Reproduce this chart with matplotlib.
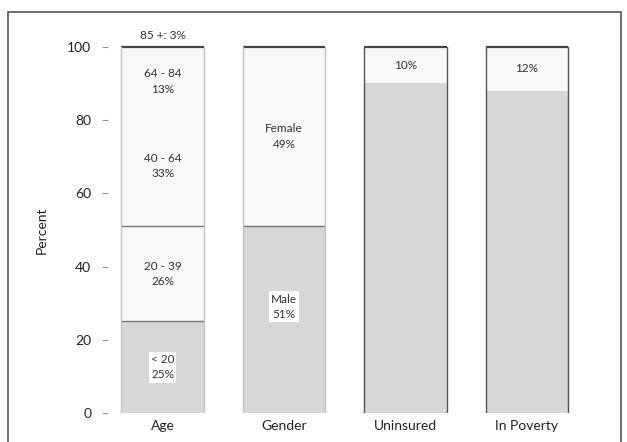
import matplotlib
matplotlib.use("Agg")
import matplotlib.pyplot as plt
from matplotlib.patches import Rectangle

categories = ["Age", "Gender", "Uninsured", "In Poverty"]

age_values = [25, 26, 33, 13, 3]
age_labels = ["< 20\n25%", "20 - 39\n26%", "40 - 64\n33%", "64 - 84\n13%", "85 +: 3%"]
gender_values = [51, 49]
gender_labels = ["Male\n51%", "Female\n49%"]
uninsured_values = [90, 10]
uninsured_labels = ["", "10%"]
poverty_values = [88, 12]
poverty_labels = ["", "12%"]
yticks = [0, 20, 40, 60, 80, 100]

GRAY = "#d7d7d7"
WHITE = "#f8f8f8"

plt.rcParams['font.family'] = ['Lato', 'DejaVu Sans']

fig = plt.figure(figsize=(6.27, 4.42), dpi=100)
ax = fig.add_axes([0.172, 0.0656, 0.775, 0.8284])

series = [
    (age_values, age_labels, [GRAY, WHITE, WHITE, WHITE, WHITE], [1, 2]),
    (gender_values, gender_labels, [GRAY, WHITE], [1]),
    (uninsured_values, uninsured_labels, [GRAY, WHITE], []),
    (poverty_values, poverty_labels, [GRAY, WHITE], []),
]
width = 0.68
for i, (vals, labs, cols, lines_at) in enumerate(series):
    bottom = 0
    bounds = []
    for j, (v, lab, c) in enumerate(zip(vals, labs, cols)):
        ax.bar(i, v, width=width, bottom=bottom, color=c, edgecolor="none")
        if lab:
            if i == 0 and j == len(vals) - 1:
                ax.text(i, 101.5, lab, ha="center", va="bottom", fontsize=8.5,
                        color="#333333", clip_on=False)
            else:
                yc = bottom + v / 2
                if i == 1 and j == 0:
                    yc = 29
                bbox = dict(facecolor="white", edgecolor="none", pad=1.5) if c == GRAY else None
                ax.text(i, yc, lab, ha="center", va="center", fontsize=8.5,
                        color="#333333", linespacing=1.5, bbox=bbox)
        bottom += v
        bounds.append(bottom)
    for k in lines_at:
        ax.plot([i - width / 2, i + width / 2], [bounds[k - 1]] * 2, color="#777777",
                lw=1.0, solid_capstyle="butt")
    # dark outline for total bar top
    ax.plot([i - width / 2, i + width / 2], [100, 100], color="#444444", lw=1.6,
            clip_on=False, solid_capstyle="butt")
    side = "#555555" if i >= 2 else "#c4c4c4"
    ax.plot([i - width / 2, i - width / 2], [0, 100], color=side, lw=1.0)
    ax.plot([i + width / 2, i + width / 2], [0, 100], color=side, lw=1.0)

ax.set_xlim(-0.45, 3.55)
ax.set_ylim(0, 100)
ax.set_xticks(range(len(categories)))
ax.set_xticklabels(categories, fontsize=10, color="#222222")
ax.set_yticks(yticks)
ax.set_yticklabels([str(t) for t in yticks], fontsize=10, color="#222222")
ax.tick_params(axis="x", length=0, pad=5)
ax.tick_params(axis="y", length=4, color="#999999", pad=8)
for s in ax.spines.values():
    s.set_visible(False)
ax.set_ylabel("Percent", fontsize=10, color="#222222", labelpad=14)

fig.patches.append(Rectangle((8 / 627, -0.01), 613 / 627, 1 - 12 / 442 + 0.01,
                             transform=fig.transFigure, fill=False,
                             edgecolor="#555555", linewidth=1.2))

fig.savefig("out.png", dpi=100)
